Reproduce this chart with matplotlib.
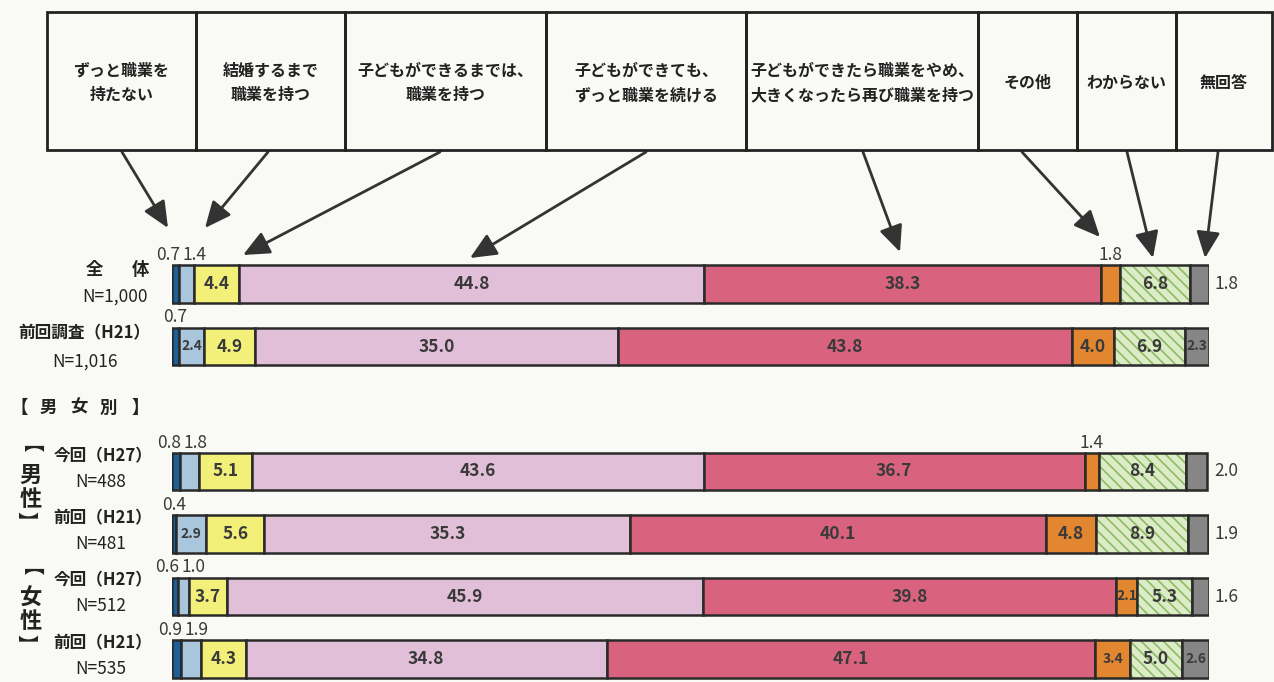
import matplotlib.pyplot as plt
from matplotlib.patches import FancyArrowPatch, Rectangle

plt.rcParams['font.family'] = ['Noto Sans CJK JP', 'DejaVu Sans']
plt.rcParams['hatch.linewidth'] = 1.2

# 回答の選択肢
categories = ['ずっと職業を\n持たない', '結婚するまで\n職業を持つ', '子どもができるまでは、\n職業を持つ',
              '子どもができても、\nずっと職業を続ける', '子どもができたら職業をやめ、\n大きくなったら再び職業を持つ',
              'その他', 'わからない', '無回答']

# 各行の割合 (%)
zentai = [0.7, 1.4, 4.4, 44.8, 38.3, 1.8, 6.8, 1.8]
zenkai = [0.7, 2.4, 4.9, 35.0, 43.8, 4.0, 6.9, 2.3]
dansei_h27 = [0.8, 1.8, 5.1, 43.6, 36.7, 1.4, 8.4, 2.0]
dansei_h21 = [0.4, 2.9, 5.6, 35.3, 40.1, 4.8, 8.9, 1.9]
josei_h27 = [0.6, 1.0, 3.7, 45.9, 39.8, 2.1, 5.3, 1.6]
josei_h21 = [0.9, 1.9, 4.3, 34.8, 47.1, 3.4, 5.0, 2.6]

rows = [zentai, zenkai, dansei_h27, dansei_h21, josei_h27, josei_h21]
ypos = [0, 1, 3, 4, 5, 6]

colors = ['#1d5f98', '#a9c6dc', '#f3f07a', '#e2bfd8', '#d9637e', '#e2862f', '#dcecc6', '#868686']
edge = '#2a2a2a'
txtc = '#3a3a3a'

W, H = 1274, 682
fig = plt.figure(figsize=(12.74, 6.82), dpi=100, facecolor='#f9f9f6')

def fx(x):
    return x / W

def fy(y):
    return 1 - y / H

ax = fig.add_axes([fx(172), 0, 1037 / W, 482 / H])
ax.set_xlim(0, 100)
ax.set_ylim(6.368, -1.344)
ax.axis('off')

bh = 0.6
for y, vals in zip(ypos, rows):
    left = 0
    for j, v in enumerate(vals):
        if j == 6:
            ax.barh(y, v, left=left, height=bh, color=colors[j], edgecolor='#8dbb66',
                    hatch='\\\\\\', lw=0)
            ax.barh(y, v, left=left, height=bh, fill=False, edgecolor=edge, lw=1.8)
        else:
            ax.barh(y, v, left=left, height=bh, color=colors[j], edgecolor=edge, lw=1.8)
        # ラベル
        if v >= 2.05:
            fs = 12.5 if v >= 3.5 else 10
            ax.text(left + v / 2, y, f'{v:.1f}', ha='center', va='center',
                    fontsize=fs, fontweight='bold', color=txtc)
        elif j == len(vals) - 1:
            ax.text(100.5, y, f'{v:.1f}', ha='left', va='center', fontsize=12.5, color=txtc)
        else:
            if j == 0 and vals[1] < 2.05:
                lx, ha = left + v + 0.1, 'right'
            elif j == 1 and vals[0] < 2.05:
                lx, ha = left + 0.3, 'left'
            else:
                lx, ha = left + v / 2, 'center'
            ax.text(lx, y - bh / 2 - 0.02, f'{v:.1f}', ha=ha, va='bottom',
                    fontsize=12.5, color=txtc)
        left += v

# 上部の選択肢ボックス
box_x = [47, 196, 345, 546, 746, 978, 1077, 1176, 1272]
for i, lab in enumerate(categories):
    x0, x1 = box_x[i], box_x[i + 1]
    fig.patches.append(Rectangle((fx(x0), fy(150)), (x1 - x0) / W, 138 / H,
                                 transform=fig.transFigure, fill=False,
                                 edgecolor='#222222', lw=2))
    fig.text(fx((x0 + x1) / 2), fy(83), lab, ha='center', va='center', fontsize=11.5,
             fontweight='bold', linespacing=1.65, color='#222222')

# 矢印
arrows = [((122, 152), (168, 228)), ((268, 152), (205, 228)), ((440, 152), (243, 255)),
          ((646, 152), (470, 258)), ((863, 152), (900, 252)), ((1022, 152), (1100, 237)),
          ((1127, 152), (1153, 258)), ((1218, 152), (1205, 258))]
for (sx, sy), (ex, ey) in arrows:
    fig.add_artist(FancyArrowPatch(
        (fx(sx), fy(sy)), (fx(ex), fy(ey)), transform=fig.transFigure,
        arrowstyle='-|>,head_length=1.0,head_width=0.45', mutation_scale=16,
        color='#333333', lw=2, shrinkA=0, shrinkB=0))

# 左側のラベル
lab_c = '#222222'
fig.text(fx(94), fy(270), '全', ha='center', va='center', fontsize=12.5, fontweight='bold', color=lab_c)
fig.text(fx(140), fy(270), '体', ha='center', va='center', fontsize=12.5, fontweight='bold', color=lab_c)
fig.text(fx(115), fy(297), 'N=1,000', ha='center', va='center', fontsize=12.5, color=lab_c)
fig.text(fx(84), fy(333), '前回調査（H21）', ha='center', va='center', fontsize=12, fontweight='bold', color=lab_c)
fig.text(fx(85), fy(362), 'N=1,016', ha='center', va='center', fontsize=12.5, color=lab_c)
for ch, xx in zip('【男女別】', [19, 48, 79, 108, 140]):
    fig.text(fx(xx), fy(408), ch, ha='center', va='center', fontsize=12.5, fontweight='bold', color=lab_c)

sub = [('今回（H27）', 'N=488', 456), ('前回（H21）', 'N=481', 518),
       ('今回（H27）', 'N=512', 580), ('前回（H21）', 'N=535', 643)]
for a, n, yy in sub:
    fig.text(fx(103), fy(yy), a, ha='center', va='center', fontsize=12, fontweight='bold', color=lab_c)
    fig.text(fx(101), fy(yy + 26), n, ha='center', va='center', fontsize=12.5, color=lab_c)

# 縦書きの【男性】【女性】
for word, yc in [('男性', 486), ('女性', 609)]:
    fig.text(fx(19), fy(yc - 32), '【', ha='center', va='center', fontsize=14,
             fontweight='bold', rotation=-90, color=lab_c)
    fig.text(fx(31), fy(yc - 11), word[0], ha='center', va='center', fontsize=16,
             fontweight='bold', color=lab_c)
    fig.text(fx(31), fy(yc + 13), word[1], ha='center', va='center', fontsize=16,
             fontweight='bold', color=lab_c)
    fig.text(fx(25), fy(yc + 35), '】', ha='center', va='center', fontsize=14,
             fontweight='bold', rotation=-90, color=lab_c)

fig.savefig('out.png', dpi=100, facecolor=fig.get_facecolor())
